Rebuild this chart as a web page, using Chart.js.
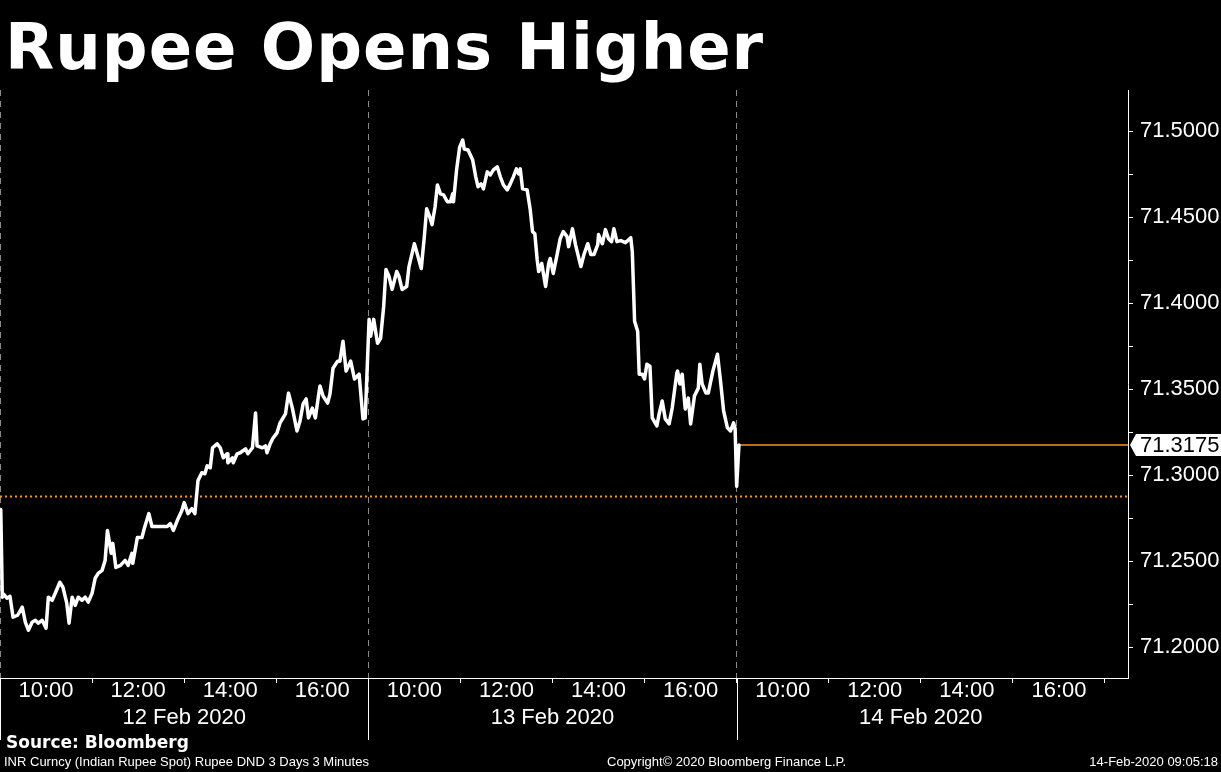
<!DOCTYPE html>
<html>
<head>
<meta charset="utf-8">
<script src="https://cdn.jsdelivr.net/npm/chart.js@4.4.1/dist/chart.umd.min.js"></script>
<style>
    body { margin: 0; background: #000; }
    #wrap { position: relative; width: 1221px; height: 772px; background: #000; overflow: hidden; }
    #title { position: absolute; left: 5px; top: 10px; color: #fff; font: bold 64px 'DejaVu Sans'; line-height: 74px; letter-spacing: 1px; white-space: nowrap; }
    .foot { position: absolute; color: #fff; white-space: nowrap; }
    #source { left: 6px; top: 732px; font: bold 17px 'DejaVu Sans'; line-height: 20px; }
    .small { top: 754px; font: 13px 'Liberation Sans'; line-height: 15px; }
</style>
</head>
<body>
<div id="wrap">
    <canvas id="chart" width="1221" height="772"></canvas>
    <div id="title">Rupee Opens Higher</div>
    <div id="source" class="foot">Source: Bloomberg</div>
    <div class="foot small" style="left:4px">INR Curncy (Indian Rupee Spot) Rupee DND 3 Days 3 Minutes</div>
    <div class="foot small" style="left:607px">Copyright© 2020 Bloomberg Finance L.P.</div>
    <div class="foot small" style="right:3px">14-Feb-2020 09:05:18</div>
</div>
<script>
const dayLabels = ['12 Feb 2020', '13 Feb 2020', '14 Feb 2020'];

const day12Times = ['09:01', '09:03', '09:05', '09:09', '09:13', '09:17', '09:23', '09:29', '09:33', '09:37',
    '09:42', '09:46', '09:50', '09:55', '10:00', '10:03', '10:08', '10:12', '10:18', '10:22',
    '10:27', '10:30', '10:34', '10:38', '10:42', '10:47', '10:51', '10:55', '11:00', '11:04',
    '11:08', '11:13', '11:17', '11:20', '11:25', '11:27', '11:31', '11:37', '11:43', '11:47',
    '11:52', '11:53', '11:59', '12:05', '12:08', '12:14', '12:18', '12:25', '12:38', '12:42',
    '12:46', '12:51', '12:57', '13:00', '13:05', '13:10', '13:14', '13:18', '13:23', '13:27',
    '13:30', '13:34', '13:37', '13:43', '13:47', '13:51', '13:56', '13:57', '14:03', '14:04',
    '14:09', '14:13', '14:20', '14:23', '14:29', '14:33', '14:35', '14:42', '14:46', '14:48',
    '14:52', '14:56', '15:01', '15:05', '15:12', '15:16', '15:21', '15:27', '15:31', '15:35',
    '15:39', '15:42', '15:47', '15:51', '15:55', '15:57', '16:01', '16:07', '16:10', '16:14',
    '16:20', '16:23', '16:27', '16:31', '16:37', '16:42', '16:48', '16:53', '16:56'];
const day12Rates = [71.2800, 71.2290, 71.2307, 71.2284, 71.2295, 71.2174, 71.2185, 71.2232, 71.2145, 71.2098,
    71.2145, 71.2156, 71.2139, 71.2156, 71.2110, 71.2290, 71.2272, 71.2313, 71.2377, 71.2348,
    71.2255, 71.2139, 71.2290, 71.2243, 71.2290, 71.2272, 71.2290, 71.2261, 71.2313, 71.2400,
    71.2429, 71.2446, 71.2504, 71.2678, 71.2545, 71.2603, 71.2463, 71.2475, 71.2504, 71.2475,
    71.2545, 71.2487, 71.2637, 71.2637, 71.2689, 71.2776, 71.2701, 71.2701, 71.2701, 71.2718,
    71.2678, 71.2736, 71.2794, 71.2840, 71.2776, 71.2805, 71.2776, 71.2968, 71.3014, 71.3008,
    71.3054, 71.3043, 71.3159, 71.3182, 71.3159, 71.3101, 71.3124, 71.3072, 71.3101, 71.3072,
    71.3124, 71.3130, 71.3153, 71.3124, 71.3159, 71.3362, 71.3170, 71.3159, 71.3170, 71.3130,
    71.3182, 71.3217, 71.3246, 71.3304, 71.3356, 71.3477, 71.3390, 71.3257, 71.3315, 71.3414,
    71.3443, 71.3333, 71.3390, 71.3333, 71.3460, 71.3518, 71.3460, 71.3419, 71.3472, 71.3622,
    71.3663, 71.3663, 71.3779, 71.3605, 71.3663, 71.3559, 71.3587, 71.3327, 71.3333];

const day13Times = ['09:01', '09:03', '09:07', '09:12', '09:16', '09:20', '09:23', '09:27', '09:31', '09:37',
    '09:40', '09:44', '09:50', '09:53', '10:00', '10:04', '10:09', '10:13', '10:16', '10:20',
    '10:23', '10:27', '10:30', '10:34', '10:38', '10:43', '10:47', '10:50', '10:51', '10:55',
    '10:59', '11:03', '11:05', '11:10', '11:16', '11:20', '11:23', '11:27', '11:30', '11:35',
    '11:39', '11:43', '11:48', '11:52', '11:56', '12:01', '12:05', '12:09', '12:13', '12:16',
    '12:18', '12:21', '12:27', '12:31', '12:34', '12:37', '12:40', '12:42', '12:46', '12:51',
    '12:55', '12:57', '13:01', '13:06', '13:10', '13:14', '13:19', '13:21', '13:26', '13:30',
    '13:37', '13:41', '13:46', '13:50', '13:54', '13:59', '14:00', '14:05', '14:09', '14:13',
    '14:17', '14:20', '14:24', '14:29', '14:35', '14:42', '14:44', '14:47', '14:51', '14:53',
    '14:57', '15:00', '15:03', '15:07', '15:10', '15:16', '15:19', '15:23', '15:27', '15:32',
    '15:36', '15:42', '15:43', '15:46', '15:49', '15:53', '15:57', '16:00', '16:05', '16:10',
    '16:12', '16:15', '16:20', '16:23', '16:29', '16:35', '16:39', '16:43', '16:48', '16:52',
    '16:56', '16:58'];
const day13Rates = [71.3906, 71.3808, 71.3906, 71.3767, 71.3796, 71.3981, 71.4196, 71.4155, 71.4080, 71.4184,
    71.4155, 71.4080, 71.4097, 71.4213, 71.4346, 71.4283, 71.4202, 71.4387, 71.4549, 71.4503,
    71.4457, 71.4561, 71.4688, 71.4636, 71.4630, 71.4590, 71.4590, 71.4636, 71.4590, 71.4775,
    71.4908, 71.4949, 71.4897, 71.4891, 71.4833, 71.4735, 71.4677, 71.4694, 71.4665, 71.4764,
    71.4746, 71.4775, 71.4793, 71.4735, 71.4688, 71.4659, 71.4694, 71.4735, 71.4781, 71.4752,
    71.4781, 71.4665, 71.4659, 71.4543, 71.4416, 71.4404, 71.4254, 71.4184, 71.4231, 71.4097,
    71.4231, 71.4260, 71.4173, 71.4283, 71.4375, 71.4416, 71.4387, 71.4329, 71.4433, 71.4341,
    71.4213, 71.4283, 71.4346, 71.4283, 71.4283, 71.4341, 71.4399, 71.4346, 71.4428, 71.4375,
    71.4358, 71.4433, 71.4358, 71.4364, 71.4352, 71.4381, 71.4300, 71.3895, 71.3837, 71.3587,
    71.3587, 71.3559, 71.3645, 71.3634, 71.3333, 71.3286, 71.3356, 71.3431, 71.3327, 71.3298,
    71.3390, 71.3593, 71.3605, 71.3530, 71.3587, 71.3385, 71.3448, 71.3298, 71.3460, 71.3506,
    71.3645, 71.3530, 71.3477, 71.3477, 71.3605, 71.3703, 71.3547, 71.3373, 71.3275, 71.3257,
    71.3304, 71.3270];

const day14Times = ['09:00', '09:03'];
const day14Rates = [71.2935, 71.3175];

const prevClose = 71.2875;
const yTickValues = [71.2, 71.225, 71.25, 71.275, 71.3, 71.325, 71.35, 71.375, 71.4, 71.425, 71.45, 71.475, 71.5];
const hourTicks = [0, 1, 2, 3, 4, 5, 6, 7, 8, 9, 10, 11, 12, 13, 14, 15, 16, 17, 18, 19, 20, 21, 22, 23, 24];

// each trading day shown as 8 hours, 09:00 -> 17:00
function sessionHour(dayIndex, hhmm) {
    const [h, m] = hhmm.split(':').map(Number);
    return dayIndex * 8 + (h - 9) + m / 60;
}

const inrPoints = [];
[[day12Times, day12Rates], [day13Times, day13Rates], [day14Times, day14Rates]].forEach((day, d) => {
    day[0].forEach((t, i) => inrPoints.push({ x: sessionHour(d, t), y: day[1][i] }));
});
const lastPoint = inrPoints[inrPoints.length - 1];
const lastRate = lastPoint.y;

const FONT = "'Liberation Sans'";

function hourLabel(v) {
    const day = Math.floor(v / 8);
    const hour = 9 + v % 8;
    if (day > 2) return '';
    if (hour === 13) return ['', dayLabels[day]];
    if (hour % 2 === 0) return hour + ':00';
    return '';
}

const dayDividers = {
    id: 'dayDividers',
    afterDraw(chart) {
        const { ctx, chartArea, scales } = chart;
        ctx.save();
        ctx.strokeStyle = '#fff';
        ctx.lineWidth = 1;
        [0, 8, 16].forEach(v => {
            const px = Math.round(scales.x.getPixelForValue(v)) + 0.5;
            ctx.beginPath();
            ctx.moveTo(px, chartArea.bottom);
            ctx.lineTo(px, chartArea.bottom + 62);
            ctx.stroke();
        });
        ctx.restore();
    }
};

const lastBadge = {
    id: 'lastBadge',
    afterDraw(chart) {
        const { ctx, chartArea, scales } = chart;
        const y = Math.round(scales.y.getPixelForValue(lastRate));
        const x0 = chartArea.right + 2;
        ctx.save();
        ctx.fillStyle = '#fff';
        ctx.beginPath();
        ctx.moveTo(x0, y);
        ctx.lineTo(x0 + 6, y - 11);
        ctx.lineTo(chart.width, y - 11);
        ctx.lineTo(chart.width, y + 11);
        ctx.lineTo(x0 + 6, y + 11);
        ctx.closePath();
        ctx.fill();
        ctx.fillStyle = '#000';
        ctx.font = '22px ' + FONT;
        ctx.textBaseline = 'middle';
        ctx.fillText(lastRate.toFixed(4), chartArea.right + 12, y + 1);
        ctx.restore();
    }
};

new Chart(document.getElementById('chart'), {
    type: 'line',
    data: {
        datasets: [{
            label: 'INR Curncy',
            data: inrPoints,
            borderColor: '#fff',
            borderWidth: 3.5,
            borderJoinStyle: 'round',
            borderCapStyle: 'round',
            pointRadius: 0,
            tension: 0,
            order: 0
        }, {
            label: 'Last',
            data: [{ x: lastPoint.x, y: lastRate }, { x: 24.5, y: lastRate }],
            borderColor: '#ff9411',
            borderWidth: 1.4,
            pointRadius: 0,
            order: 1
        }, {
            label: 'Previous close',
            data: [{ x: 0, y: prevClose }, { x: 24.5, y: prevClose }],
            borderColor: '#ff9411',
            borderWidth: 2,
            borderDash: [2, 3],
            pointRadius: 0,
            order: 2
        }]
    },
    options: {
        responsive: false,
        animation: false,
        layout: { padding: { top: 90, left: 0, right: 0, bottom: 0 } },
        plugins: {
            legend: { display: false },
            tooltip: { enabled: false }
        },
        scales: {
            x: {
                type: 'linear',
                min: 0,
                max: 24.5,
                afterBuildTicks: axis => { axis.ticks = hourTicks.map(v => ({ value: v })); },
                afterFit: axis => { axis.height = 94; },
                grid: {
                    color: c => (c.tick && c.tick.value % 8 === 0 && c.tick.value < 24) ? '#8a8a8a' : 'rgba(0,0,0,0)',
                    tickColor: c => (c.tick && (c.tick.value % 2 === 0)) ? '#fff' : 'rgba(0,0,0,0)',
                    tickLength: 5,
                    lineWidth: 1
                },
                border: { color: '#fff', width: 1, dash: [6, 5] },
                ticks: {
                    autoSkip: false,
                    maxRotation: 0,
                    padding: -5,
                    color: '#fff',
                    font: { family: FONT, size: 22 },
                    callback: v => hourLabel(v)
                }
            },
            y: {
                position: 'right',
                min: 71.182,
                max: 71.524,
                afterBuildTicks: axis => { axis.ticks = yTickValues.map(v => ({ value: v })); },
                afterFit: axis => { axis.width = 93; },
                grid: {
                    drawOnChartArea: false,
                    tickColor: '#fff',
                    tickLength: 5
                },
                border: { color: '#fff', width: 1 },
                ticks: {
                    padding: 7,
                    color: '#fff',
                    font: { family: FONT, size: 22 },
                    callback: v => Math.round(v * 1000) % 50 === 0 ? v.toFixed(4) : ''
                }
            }
        }
    },
    plugins: [dayDividers, lastBadge]
});
</script>
</body>
</html>
